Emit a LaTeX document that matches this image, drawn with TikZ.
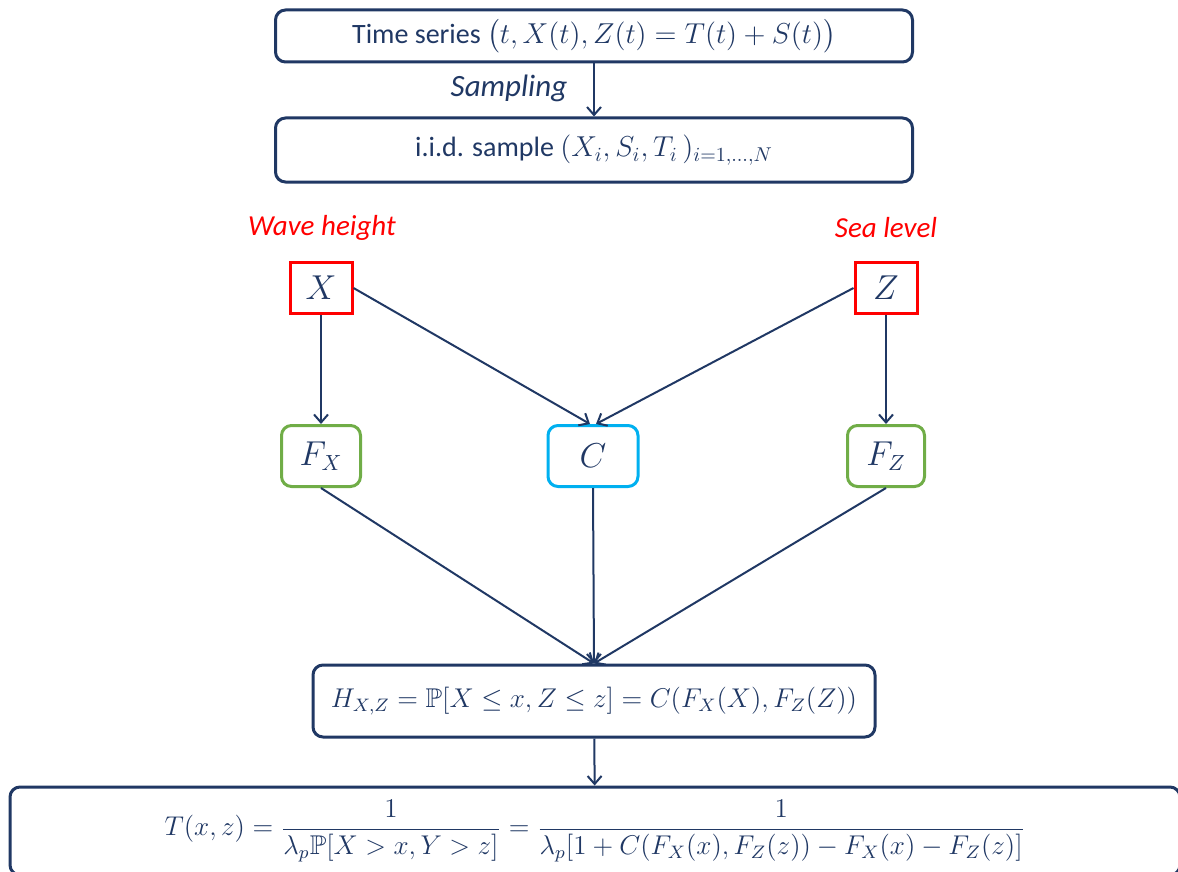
\documentclass[tikz,border=0pt]{standalone}
\usepackage{amsmath,amssymb,graphicx}
\usepackage{fontspec}
\setmainfont{Carlito}
\usetikzlibrary{arrows.meta}
\definecolor{navy}{RGB}{32,56,100}
\definecolor{tagred}{RGB}{255,0,0}
\definecolor{margreen}{RGB}{112,173,71}
\definecolor{copcyan}{RGB}{0,176,240}

\begin{document}
\begin{tikzpicture}[x=0.5pt, y=-0.5pt,
  every node/.style={text=navy, font=\fontsize{14}{16}\selectfont},
  flowbox/.style={draw=navy, line width=1.5pt, rounded corners=5pt, inner sep=0pt},
  varbox/.style={draw=tagred, line width=1.5pt, inner sep=0pt, minimum width=31pt, minimum height=25.5pt,
    font=\fontsize{16}{18}\selectfont},
  margbox/.style={draw=margreen, line width=1.5pt, rounded corners=5pt, inner sep=0pt, minimum height=30.5pt,
    font=\fontsize{16}{18}\selectfont},
  link/.style={draw=navy, line width=1pt, -{Straight Barb[length=4pt,width=7pt]}},
  tag/.style={text=tagred, font=\fontsize{14.5}{17}\selectfont\itshape}]
  \clip (0,0) rectangle (1178,872);

  % sampling part
  \node[flowbox, minimum width=318.5pt, minimum height=26pt] (series) at (594,36)
    {Time series $\bigl(t, X(t), Z(t) = T(t) + S(t)\bigr)$};
  \node[font=\fontsize{15.5}{18}\selectfont\itshape] (samp) at (509,88) {Sampling};
  \node[flowbox, minimum width=318.5pt, minimum height=32pt] (sample) at (594,150)
    {i.i.d. sample $(X_i, S_i, T_i\,)_{i=1,\dots,N}$};

  % variables and margins
  \node[tag] (wave) at (322,228) {Wave height};
  \node[tag] (sea) at (886,228) {Sea level};
  \node[varbox] (X) at (321,288) {$X$};
  \node[varbox] (Z) at (886,288) {$Z$};
  \node[margbox, minimum width=39.5pt] (FX) at (321,456) {$F_X$};
  \node[margbox, draw=copcyan, minimum width=45pt] (C) at (593,456) {$C$};
  \node[margbox, minimum width=38.5pt] (FZ) at (886,456) {$F_Z$};

  % joint law and return period
  \node[flowbox, minimum width=281pt, minimum height=36pt, font=\fontsize{12}{14}\selectfont] (H) at (594,701)
    {\scalebox{1.13}{$H_{X,Z} = \mathbb{P}[X \le x, Z \le z] = C(F_X(X), F_Z(Z))$}};
  \node[flowbox, minimum width=585pt, minimum height=44pt, font=\fontsize{12}{14}\selectfont] (T) at (595,831)
    {\scalebox{1.13}{$T(x,z) = \dfrac{1}{\lambda_p \mathbb{P}[X > x, Y > z]}
      = \dfrac{1}{\lambda_p[1 + C(F_X(x), F_Z(z)) - F_X(x) - F_Z(z)]}$}};

  \draw[link] (series) -- (sample);
  \draw[link] (X) -- (FX);
  \draw[link] (Z) -- (FZ);
  \draw[link] (X.east) -- ([xshift=-1.5pt]C.north);
  \draw[link] (Z.west) -- ([xshift=1.5pt]C.north);
  \foreach \m in {FX, C, FZ}
    \draw[link] (\m.south) -- (H.north);
  \draw[link] (H) -- (T);
\end{tikzpicture}
\end{document}
